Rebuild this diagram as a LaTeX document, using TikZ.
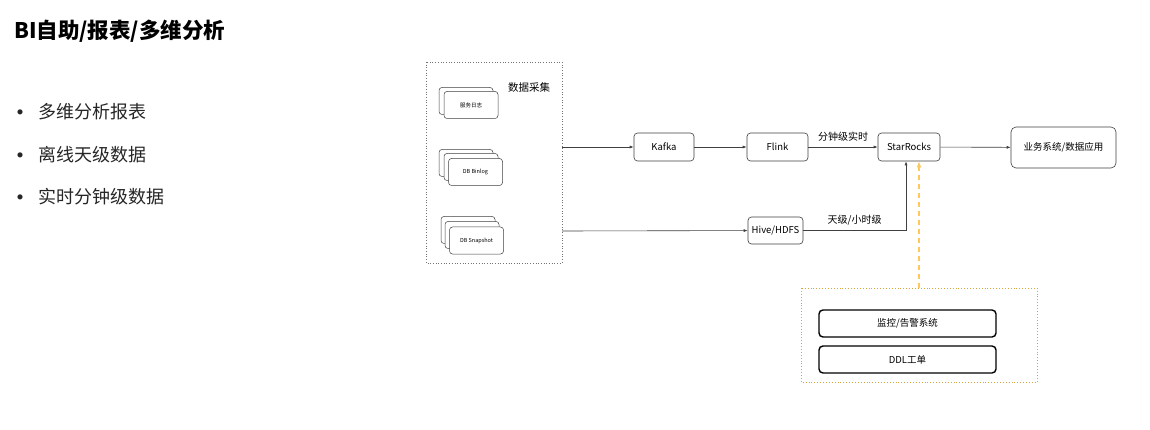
\documentclass[tikz,border=0pt]{standalone}
\usepackage{fontspec}
\setmainfont{Noto Sans CJK SC}
\usetikzlibrary{arrows.meta}
\tikzset{
  card/.style={draw=black!75, fill=white, rounded corners=3pt, line width=0.5pt, minimum width=54pt, minimum height=27pt, inner sep=0pt, font=\fontsize{5.5}{6}\selectfont},
  proc/.style={draw=black!75, fill=white, rounded corners=3.5pt, line width=0.6pt, minimum height=28pt, inner sep=0pt, font=\fontsize{9.5}{11}\selectfont},
  bold/.style={draw=black, fill=white, rounded corners=4pt, line width=1.4pt, minimum width=177pt, minimum height=27pt, inner sep=0pt, font=\fontsize{9.5}{11}\selectfont},
  flow/.style={draw=black!75, line width=0.6pt, -{Latex[length=4pt,width=3pt]}},
  lbl/.style={font=\fontsize{10}{12}\selectfont, inner sep=0pt},
  bul/.style={font=\fontsize{18}{20}\selectfont, anchor=west, inner sep=0pt, text=black!85},
}
\newcommand{\bigbul}{\raisebox{-3pt}{\fontsize{24}{20}\selectfont •}}
\begin{document}
\begin{tikzpicture}[x=1pt,y=-1pt]
\useasboundingbox[fill=white] (0,0) rectangle (1150,430);
% title and bullets
\node[anchor=west, inner sep=0pt, font=\fontsize{21.5}{24}\selectfont\bfseries] (title) at (14,31) {BI自助/报表/多维分析};
\node[bul] (b1) at (8,112) {\bigbul\hspace{6pt}多维分析报表};
\node[bul] (b2) at (8,155) {\bigbul\hspace{6pt}离线天级数据};
\node[bul] (b3) at (8,197) {\bigbul\hspace{6pt}实时分钟级数据};
% collection box
\draw[black!55, dotted, line width=0.7pt] (426,62) rectangle (562,263);
\node[lbl, font=\fontsize{10.5}{12}\selectfont] (cj) at (529,88) {数据采集};
% 服务日志
\node[card] (l1) at (466,101) {};
\node[card] (l2) at (471,105) {服务日志};
% DB Binlog
\node[card] (bn1) at (466,163) {};
\node[card] (bn2) at (471,167) {};
\node[card] (bn3) at (475.5,172) {DB Binlog};
% DB Snapshot
\node[card] (s1) at (468,230) {};
\node[card] (s2) at (472,235) {};
\node[card] (s3) at (476.5,240.5) {DB Snapshot};
\coordinate (o1) at (562,147);
\coordinate (o2) at (562,231);
% processing
\node[proc, minimum width=60pt] (kafka) at (664,147) {Kafka};
\node[proc, minimum width=61pt] (flink) at (777.5,147) {Flink};
\node[proc, minimum width=62pt] (sr) at (909,147) {StarRocks};
\node[proc, minimum width=105pt, minimum height=41pt, rounded corners=5pt] (app) at (1063.5,147.5) {业务系统/数据应用};
\node[proc, minimum width=55pt, minimum height=27pt] (hive) at (775.5,230.5) {Hive/HDFS};
\draw[flow] (o1) -- (kafka);
\draw[flow] (kafka) -- (flink);
\draw[flow] (flink) -- node[lbl, above=5pt] (rt) {分钟级实时} (sr);
\draw[flow] (sr) -- (app);
\draw[flow] (o2) -- (hive);
\coordinate (turn) at (906,230.5);
\draw[flow] (hive.east) -- node[lbl, above=5pt] (dl) {天级/小时级} (turn) -- (sr.south -| turn);
% monitoring
\draw[draw={rgb,255:red,215;green,165;blue,60}, dotted, line width=0.9pt] (801,288) rectangle (1037,382);
\coordinate (mtop) at (919,288);
\node[bold] (mon) at (907.5,323.5) {监控/告警系统};
\node[bold] (ddl) at (907.5,359.5) {DDL工单};
\draw[draw={rgb,255:red,255;green,200;blue,90}, line width=1.6pt, dash pattern=on 5pt off 4pt, -{Latex[length=6pt,width=5pt]}] (mtop) -- (sr.south -| mtop);
\end{tikzpicture}
\end{document}
